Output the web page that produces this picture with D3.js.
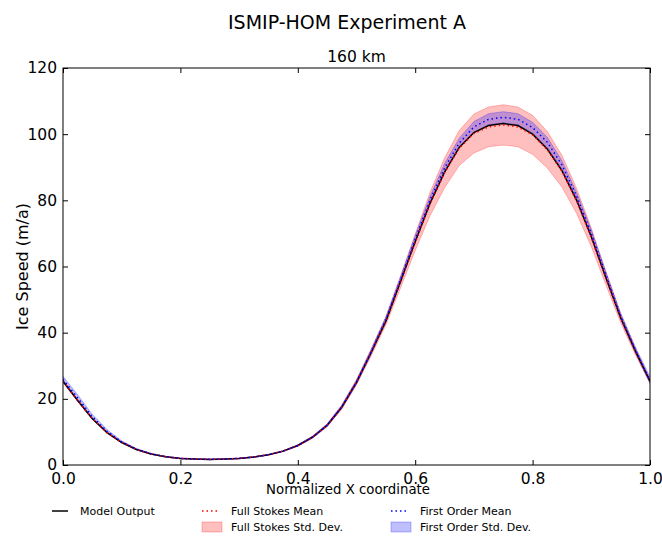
<!DOCTYPE html>
<html>
<head>
<meta charset="utf-8">
<script src="https://cdn.jsdelivr.net/npm/d3@7"></script>
<style>
  body { margin: 0; background: #fff; }
  svg { font-family: "DejaVu Sans", sans-serif; }
</style>
</head>
<body>
<svg id="chart" width="662" height="539"></svg>
<script>
// ISMIP-HOM experiment A, 160 km

var xCoords = [0, 0.025, 0.05, 0.075, 0.1, 0.125, 0.15, 0.175, 0.2, 0.225,
  0.25, 0.275, 0.3, 0.325, 0.35, 0.375, 0.4, 0.425, 0.45, 0.475,
  0.5, 0.525, 0.55, 0.575, 0.6, 0.625, 0.65, 0.675, 0.7, 0.725,
  0.75, 0.775, 0.8, 0.825, 0.85, 0.875, 0.9, 0.925, 0.95, 0.975, 1.0];

var modelOutput = [25.3, 19.5, 14.0, 9.8, 6.8, 4.7, 3.3, 2.5, 2.0, 1.8,
  1.7, 1.8, 2.0, 2.4, 3.1, 4.2, 5.9, 8.4, 12.0, 17.5,
  25.0, 34.0, 43.5, 55.5, 67.5, 79.0, 88.5, 96.0, 100.5, 102.6,
  103.2, 102.6, 100.0, 95.5, 89.0, 80.0, 69.0, 56.5, 44.5, 34.5, 25.3];

var fsMean = [25.3, 19.5, 14.0, 9.8, 6.8, 4.7, 3.3, 2.5, 2.0, 1.8,
  1.7, 1.8, 2.0, 2.4, 3.1, 4.2, 5.9, 8.4, 12.0, 17.5,
  25.0, 34.0, 43.5, 55.3, 67.3, 78.8, 88.3, 95.8, 100.2, 102.2,
  102.8, 102.2, 99.8, 95.3, 88.8, 79.8, 68.8, 56.4, 44.4, 34.4, 25.3];

var fsStd = [0.4, 0.3, 0.2, 0.2, 0.1, 0.1, 0.1, 0.1, 0.1, 0.1,
  0.1, 0.1, 0.1, 0.1, 0.1, 0.1, 0.2, 0.3, 0.4, 0.6,
  0.8, 1.0, 1.2, 1.8, 2.5, 3.5, 4.5, 5.3, 5.9, 6.0,
  6.1, 6.0, 5.9, 5.5, 4.8, 3.8, 2.8, 2.0, 1.4, 1.0, 0.5];

var foMean = [25.9, 20.3, 14.6, 10.2, 7.0, 4.8, 3.4, 2.5, 2.0, 1.8,
  1.7, 1.8, 2.0, 2.4, 3.1, 4.2, 5.9, 8.4, 12.0, 17.6,
  25.1, 34.3, 44.0, 56.0, 68.3, 80.0, 89.8, 97.3, 102.2, 104.5,
  105.1, 104.5, 102.0, 97.6, 90.7, 81.3, 70.0, 57.4, 45.0, 34.8, 25.6];

var foStd = [0.9, 0.9, 0.7, 0.5, 0.3, 0.2, 0.1, 0.1, 0.1, 0.1,
  0.1, 0.1, 0.1, 0.1, 0.1, 0.1, 0.2, 0.3, 0.4, 0.5,
  0.6, 0.7, 0.8, 0.9, 1.0, 1.1, 1.3, 1.5, 1.6, 1.7,
  1.7, 1.7, 1.6, 1.5, 1.3, 1.1, 1.0, 0.9, 0.9, 0.9, 1.0];

var xTicks = [0, 0.2, 0.4, 0.6, 0.8, 1.0],
  yTicks = [0, 20, 40, 60, 80, 100, 120];

var svg = d3.select('#chart'),
  LEFT = 63, RIGHT = 650, TOP = 68, BOTTOM = 465,
  TICK = 5;

var x = d3.scaleLinear().domain([0, 1]).range([LEFT, RIGHT]),
  y = d3.scaleLinear().domain([0, 120]).range([BOTTOM, TOP]);

var rows = xCoords.map(function(d, i) {
  return {
    x: d, model: modelOutput[i],
    fs: fsMean[i], fsSd: fsStd[i],
    fo: foMean[i], foSd: foStd[i]
  };
});

var plot = svg.append('g');

plot.append('clipPath').attr('id', 'clip')
  .append('rect')
  .attr('x', LEFT).attr('y', TOP)
  .attr('width', RIGHT - LEFT).attr('height', BOTTOM - TOP);

var inner = plot.append('g').attr('clip-path', 'url(#clip)');

// std dev bands
function band(mean, sd) {
  return d3.area()
    .x(function(d) { return x(d.x); })
    .y0(function(d) { return y(d[mean] - d[sd]); })
    .y1(function(d) { return y(d[mean] + d[sd]); });
}

inner.append('path')
  .datum(rows)
  .attr('d', band('fs', 'fsSd'))
  .attr('fill', 'red')
  .attr('fill-opacity', 0.25)
  .attr('stroke', 'red')
  .attr('stroke-opacity', 0.25)
  .attr('stroke-width', 1);

inner.append('path')
  .datum(rows)
  .attr('d', band('fo', 'foSd'))
  .attr('fill', 'blue')
  .attr('fill-opacity', 0.25)
  .attr('stroke', 'blue')
  .attr('stroke-opacity', 0.25)
  .attr('stroke-width', 1);

function line(key) {
  return d3.line()
    .x(function(d) { return x(d.x); })
    .y(function(d) { return y(d[key]); });
}

inner.append('path')
  .datum(rows)
  .attr('d', line('model'))
  .attr('fill', 'none')
  .attr('stroke', 'black')
  .attr('stroke-width', 1.5);

inner.append('path')
  .datum(rows)
  .attr('d', line('fs'))
  .attr('fill', 'none')
  .attr('stroke', 'red')
  .attr('stroke-width', 1.5)
  .attr('stroke-dasharray', '1.5,3');

inner.append('path')
  .datum(rows)
  .attr('d', line('fo'))
  .attr('fill', 'none')
  .attr('stroke', 'blue')
  .attr('stroke-width', 1.5)
  .attr('stroke-dasharray', '1.5,3');

// axes, ticks pointing inward on all four sides
var bottomAxis = d3.axisBottom(x).tickValues(xTicks).tickSize(-TICK).tickPadding(8)
  .tickFormat(d3.format('.1f'));
var topAxis = d3.axisTop(x).tickValues(xTicks).tickSize(-TICK).tickFormat('');
var leftAxis = d3.axisLeft(y).tickValues(yTicks).tickSize(-TICK).tickPadding(6)
  .tickFormat(d3.format('d'));
var rightAxis = d3.axisRight(y).tickValues(yTicks).tickSize(-TICK).tickFormat('');

function styleAxis(g) {
  g.select('.domain').remove();
  g.selectAll('.tick line').attr('stroke', '#000').attr('stroke-width', 1);
  g.selectAll('.tick text')
    .attr('fill', '#000')
    .style('font-size', '15.5px')
    .style('font-family', '"DejaVu Sans", sans-serif');
}

svg.append('g').attr('transform', 'translate(0,' + BOTTOM + ')').call(bottomAxis).call(styleAxis);
svg.append('g').attr('transform', 'translate(0,' + TOP + ')').call(topAxis).call(styleAxis);
svg.append('g').attr('transform', 'translate(' + LEFT + ',0)').call(leftAxis).call(styleAxis);
svg.append('g').attr('transform', 'translate(' + RIGHT + ',0)').call(rightAxis).call(styleAxis);

svg.append('rect')
  .attr('x', LEFT).attr('y', TOP)
  .attr('width', RIGHT - LEFT).attr('height', BOTTOM - TOP)
  .attr('fill', 'none')
  .attr('stroke', '#000')
  .attr('stroke-width', 1);

// titles
svg.append('text')
  .attr('x', 347).attr('y', 29)
  .attr('text-anchor', 'middle')
  .style('font-size', '19px')
  .text('ISMIP-HOM Experiment A');

svg.append('text')
  .attr('x', (LEFT + RIGHT) / 2).attr('y', 62)
  .attr('text-anchor', 'middle')
  .style('font-size', '15.5px')
  .text('160 km');

svg.append('text')
  .attr('x', 348).attr('y', 494)
  .attr('text-anchor', 'middle')
  .style('font-size', '13.3px')
  .text('Normalized X coordinate');

svg.append('text')
  .attr('transform', 'translate(28,' + ((TOP + BOTTOM) / 2) + ') rotate(-90)')
  .attr('text-anchor', 'middle')
  .style('font-size', '16px')
  .text('Ice Speed (m/a)');

// legend, 3 columns
var legendItems = [
  { label: 'Model Output', kind: 'line', color: 'black', col: 0, row: 0 },
  { label: 'Full Stokes Mean', kind: 'dots', color: 'red', col: 1, row: 0 },
  { label: 'First Order Mean', kind: 'dots', color: 'blue', col: 2, row: 0 },
  { label: 'Full Stokes Std. Dev.', kind: 'patch', color: 'red', col: 1, row: 1 },
  { label: 'First Order Std. Dev.', kind: 'patch', color: 'blue', col: 2, row: 1 }
];
var colX = [52, 202, 391],
  rowY = [511, 527];

var legend = svg.append('g')
  .selectAll('g')
  .data(legendItems)
  .enter()
  .append('g')
  .attr('transform', function(d) { return 'translate(' + colX[d.col] + ',' + rowY[d.row] + ')'; });

legend.filter(function(d) { return d.kind !== 'patch'; })
  .append('line')
  .attr('x1', 0).attr('x2', 16)
  .attr('y1', 0).attr('y2', 0)
  .attr('stroke', function(d) { return d.color; })
  .attr('stroke-width', 1.5)
  .attr('stroke-dasharray', function(d) { return d.kind === 'dots' ? '1.5,3' : null; });

legend.filter(function(d) { return d.kind === 'patch'; })
  .append('rect')
  .attr('x', 0).attr('y', -5)
  .attr('width', 20).attr('height', 10)
  .attr('fill', function(d) { return d.color; })
  .attr('fill-opacity', 0.25)
  .attr('stroke', function(d) { return d.color; })
  .attr('stroke-opacity', 0.25);

legend.append('text')
  .attr('x', function(d) { return d.col === 0 ? 28 : 29; })
  .attr('y', 4)
  .style('font-size', '11px')
  .text(function(d) { return d.label; });
</script>
</body>
</html>
